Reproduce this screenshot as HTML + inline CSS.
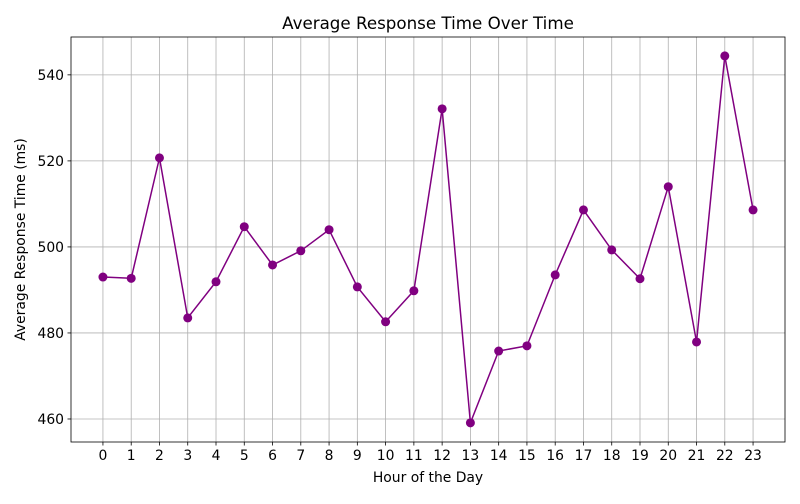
<!DOCTYPE html>
<html><head><meta charset="utf-8"><style>
body{margin:0;background:#fff;font-family:"DejaVu Sans","Liberation Sans",sans-serif}
</style></head><body>
<svg id="chart" width="800" height="500" xmlns="http://www.w3.org/2000/svg" font-family="DejaVu Sans, Liberation Sans, sans-serif"></svg>
<script>
const hours=[0,1,2,3,4,5,6,7,8,9,10,11,12,13,14,15,16,17,18,19,20,21,22,23];
const responseTimes=[493.0,492.7,520.7,483.5,491.9,504.7,495.8,499.1,504.0,490.7,482.6,489.8,532.1,459.1,475.8,477.0,493.5,508.6,499.3,492.6,514.0,477.9,544.4,508.6];
const yTicks=[460,480,500,520,540];
const L=71,R=785,T=37,B=442;
const xMin=-1.13,xMax=24.13,yMin=454.65,yMax=548.8;
const xs=v=>L+(v-xMin)/(xMax-xMin)*(R-L);
const ys=v=>B-(v-yMin)/(yMax-yMin)*(B-T);
const svg=document.getElementById('chart');
const NS='http://www.w3.org/2000/svg';
function mk(tag,attrs,parent){const e=document.createElementNS(NS,tag);for(const k in attrs)e.setAttribute(k,attrs[k]);(parent||svg).appendChild(e);return e;}
const grid=mk('g',{});


hours.forEach(h=>{mk('line',{x1:xs(h),x2:xs(h),y1:T,y2:B,stroke:'#b0b0b0','stroke-width':0.8},grid);
 mk('line',{x1:xs(h),x2:xs(h),y1:B,y2:B+3.5,stroke:'#000','stroke-width':0.8});
 const t=mk('text',{x:xs(h),y:B+18,'text-anchor':'middle','font-size':13.9});t.textContent=h;
 
 });
yTicks.forEach(v=>{mk('line',{x1:L,x2:R,y1:ys(v),y2:ys(v),stroke:'#b0b0b0','stroke-width':0.8},grid);
 mk('line',{x1:L-3.5,x2:L,y1:ys(v),y2:ys(v),stroke:'#000','stroke-width':0.8});
 const t=mk('text',{x:L-7,y:ys(v)+5,'text-anchor':'end','font-size':13.9});t.textContent=v;
 
 });
const line=mk('polyline',{points:hours.map((h,i)=>xs(h)+','+ys(responseTimes[i])).join(' '),fill:'none',stroke:'purple','stroke-width':1.5});


hours.forEach((h,i)=>{const c=mk('circle',{cx:xs(h),cy:ys(responseTimes[i]),r:4.5,fill:'purple'});
 
 });
const frame=mk('rect',{x:L,y:T,width:R-L,height:B-T,fill:'none',stroke:'#000','stroke-width':0.8});


const title=mk('text',{x:(L+R)/2,y:29,'text-anchor':'middle','font-size':16.7});title.textContent='Average Response Time Over Time';


const xt=mk('text',{x:(L+R)/2,y:482,'text-anchor':'middle','font-size':13.9});xt.textContent='Hour of the Day';


const yt=mk('text',{x:0,y:0,'text-anchor':'middle','font-size':13.9,transform:'translate(25,'+(T+B)/2+') rotate(-90)'});yt.textContent='Average Response Time (ms)';


</script>
</body></html>
